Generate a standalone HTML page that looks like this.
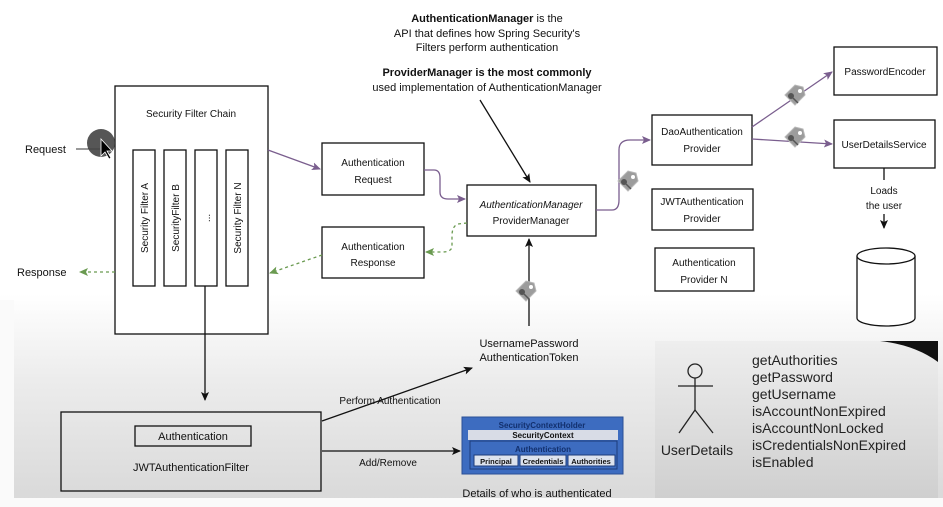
<!DOCTYPE html>
<html><head><meta charset="utf-8"><style>
html,body{margin:0;padding:0;width:943px;height:507px;overflow:hidden;background:#fff}
svg{display:block;font-family:"Liberation Sans",Arial,sans-serif}
</style></head><body>
<svg width="943" height="507" viewBox="0 0 943 507" xmlns="http://www.w3.org/2000/svg">
<defs>
<linearGradient id="bg" x1="0" y1="0" x2="0" y2="1">
<stop offset="0" stop-color="#ffffff"/><stop offset="0.58" stop-color="#ffffff"/><stop offset="0.75" stop-color="#ececec"/><stop offset="1" stop-color="#d8d8d8"/></linearGradient>
<linearGradient id="pn" x1="0" y1="0" x2="0" y2="1"><stop offset="0" stop-color="#eeeeee"/><stop offset="1" stop-color="#cfcfcf"/></linearGradient>
<marker id="ab" markerWidth="10" markerHeight="10" refX="8" refY="5" orient="auto" markerUnits="userSpaceOnUse"><path d="M0,1 L9,5 L0,9 L2,5z" fill="#111"/></marker>
<marker id="ap" markerWidth="10" markerHeight="10" refX="8" refY="5" orient="auto" markerUnits="userSpaceOnUse"><path d="M0,1 L9,5 L0,9 L2,5z" fill="#7a5e8e"/></marker>
<marker id="ag" markerWidth="10" markerHeight="10" refX="8" refY="5" orient="auto" markerUnits="userSpaceOnUse"><path d="M0,1 L9,5 L0,9 L2,5z" fill="#6a9a50"/></marker>
<g id="tag"><path d="M-7,-3 L3,-13 L11,-11 L13,-3 L3,7 Z" fill="#9c9c9c" stroke="#b8b8b8"/><circle cx="8" cy="-7" r="2" fill="#fff"/><circle cx="-1" cy="-2" r="3" fill="#555"/><path d="M1,0 L6,5" stroke="#555" stroke-width="1.5"/></g>
</defs>
<rect x="0" y="0" width="943" height="507" fill="url(#bg)"/>
<rect x="0" y="498" width="943" height="9" fill="#fafafa"/>
<rect x="0" y="300" width="14" height="198" fill="#fafafa"/>
<!-- panel -->
<rect x="655" y="341" width="283" height="157" fill="url(#pn)"/>
<path d="M880,341 L938,341 L938,362 Q915,345 880,341z" fill="#111"/>

<g fill="none" stroke="#111" stroke-width="1.3">
<rect x="115" y="86" width="153" height="248" fill="#fff"/>
<rect x="133" y="150" width="22" height="136" fill="#fff"/>
<rect x="164" y="150" width="22" height="136" fill="#fff"/>
<rect x="195" y="150" width="22" height="136" fill="#fff"/>
<rect x="226" y="150" width="22" height="136" fill="#fff"/>
<rect x="322" y="143" width="102" height="52" fill="#fff"/>
<rect x="322" y="227" width="102" height="51" fill="#fff"/>
<rect x="467" y="185" width="129" height="51" fill="#fff"/>
<rect x="652" y="115" width="100" height="50" fill="#fff"/>
<rect x="652" y="189" width="101" height="41" fill="#fff"/>
<rect x="655" y="248" width="99" height="43" fill="#fff"/>
<rect x="834" y="47" width="103" height="48" fill="#fff"/>
<rect x="834" y="120" width="101" height="48" fill="#fff"/>
<rect x="61" y="412" width="260" height="79"/>
<rect x="135" y="426" width="116" height="20"/>
<path d="M857,256 L857,318 A29,8 0 0 0 915,318 L915,256" fill="#fff"/>
<ellipse cx="886" cy="256" rx="29" ry="8" fill="#fff"/>
</g>
<!-- request -->
<line x1="76" y1="149" x2="100" y2="149" stroke="#333"/>
<circle cx="101" cy="143" r="14" fill="#444" opacity="0.9"/>
<path d="M101,139 L101,156 L105,152 L109,159 L111,158 L107,151 L112,151z" fill="#000" stroke="#fff" stroke-width="0.8"/>
<!-- connectors -->
<g fill="none" stroke-width="1.3">
<line x1="268" y1="150" x2="320" y2="169" stroke="#7a5e8e" marker-end="url(#ap)"/>
<path d="M424,170 L434,170 Q440,170 440,178 L440,192 Q440,199 448,199 L465,199" stroke="#7a5e8e" marker-end="url(#ap)"/>
<path d="M596,210 L612,210 Q619,210 619,200 L619,150 Q619,140 630,140 L650,140" stroke="#7a5e8e" marker-end="url(#ap)"/>
<line x1="752" y1="127" x2="832" y2="72" stroke="#7a5e8e" marker-end="url(#ap)"/>
<line x1="752" y1="139" x2="832" y2="144" stroke="#7a5e8e" marker-end="url(#ap)"/>
<path d="M467,223 L458,224 Q452,226 452,236 L452,246 Q452,252 442,252 L426,252" stroke="#6a9a50" stroke-dasharray="3,3" marker-end="url(#ag)"/>
<path d="M322,255 L270,273" stroke="#6a9a50" stroke-dasharray="3,3" marker-end="url(#ag)"/>
<line x1="115" y1="272" x2="80" y2="272" stroke="#6a9a50" stroke-dasharray="3,3" marker-end="url(#ag)"/>
<line x1="480" y1="100" x2="530" y2="182" stroke="#111" marker-end="url(#ab)"/>
<line x1="529" y1="326" x2="529" y2="239" stroke="#111" marker-end="url(#ab)"/>
<line x1="884" y1="168" x2="884" y2="180" stroke="#111"/>
<line x1="884" y1="214" x2="884" y2="228" stroke="#111" marker-end="url(#ab)"/>
<line x1="205" y1="286" x2="205" y2="400" stroke="#111" marker-end="url(#ab)"/>
<line x1="322" y1="421" x2="472" y2="368" stroke="#111" marker-end="url(#ab)"/>
<line x1="322" y1="451" x2="460" y2="451" stroke="#111" marker-end="url(#ab)"/>
</g>
<use href="#tag" x="625" y="184"/>
<use href="#tag" x="792" y="98"/>
<use href="#tag" x="792" y="140"/>
<use href="#tag" x="523" y="294"/>
<!-- texts -->
<g font-size="10" fill="#111" text-anchor="middle">
<text x="191" y="117">Security Filter Chain</text>
<text transform="translate(148,218) rotate(-90)">Security Filter A</text>
<text transform="translate(179,218) rotate(-90)">SecurityFilter B</text>
<text transform="translate(210,218) rotate(-90)">...</text>
<text transform="translate(241,218) rotate(-90)">Security Filter N</text>
<text x="373" y="166">Authentication</text><text x="373" y="183">Request</text>
<text x="373" y="250">Authentication</text><text x="373" y="266">Response</text>
<text x="531" y="208" font-style="italic">AuthenticationManager</text><text x="531" y="224">ProviderManager</text>
<text x="702" y="135">DaoAuthentication</text><text x="702" y="152">Provider</text>
<text x="702" y="205">JWTAuthentication</text><text x="702" y="222">Provider</text>
<text x="704" y="266">Authentication</text><text x="704" y="283">Provider N</text>
<text x="885" y="75">PasswordEncoder</text>
<text x="884" y="148">UserDetailsService</text>
<text x="884" y="194">Loads</text><text x="884" y="209">the user</text>
<text x="193" y="440" font-size="11">Authentication</text>
<text x="191" y="471" font-size="11">JWTAuthenticationFilter</text>
<text x="390" y="404">Perform Authentication</text>
<text x="388" y="466">Add/Remove</text>
<text x="537" y="497" font-size="11">Details of who is authenticated</text>
</g>
<g font-size="11" fill="#111" text-anchor="middle">
<text x="487" y="22"><tspan font-weight="bold">AuthenticationManager</tspan> is the</text>
<text x="487" y="37">API that defines how Spring Security's</text>
<text x="487" y="51">Filters perform authentication</text>
<text x="487" y="76" font-weight="bold">ProviderManager is the most commonly</text>
<text x="487" y="91">used implementation of AuthenticationManager</text>
<text x="529" y="347">UsernamePassword</text>
<text x="529" y="361">AuthenticationToken</text>
</g>
<text x="25" y="153" font-size="11" fill="#111">Request</text>
<text x="17" y="276" font-size="11" fill="#111">Response</text>
<!-- SecurityContextHolder -->
<rect x="462" y="417" width="161" height="57" fill="#3d6cc0" stroke="#2a4f96"/>
<text x="542" y="428" font-size="8" font-weight="bold" fill="#12306e" text-anchor="middle">SecurityContextHolder</text>
<rect x="468" y="430" width="150" height="10" fill="#d8dce6"/>
<text x="543" y="438" font-size="8" font-weight="bold" fill="#111" text-anchor="middle">SecurityContext</text>
<rect x="470" y="441" width="147" height="28" fill="#3d6cc0" stroke="#1d3b7a"/>
<text x="543" y="452" font-size="8" font-weight="bold" fill="#12306e" text-anchor="middle">Authentication</text>
<rect x="474" y="455" width="44" height="11" fill="#dde3ee" stroke="#1d3b7a"/>
<rect x="520" y="455" width="46" height="11" fill="#dde3ee" stroke="#1d3b7a"/>
<rect x="568" y="455" width="47" height="11" fill="#dde3ee" stroke="#1d3b7a"/>
<g font-size="7.5" font-weight="bold" fill="#111" text-anchor="middle">
<text x="496" y="464">Principal</text><text x="543" y="464">Credentials</text><text x="591" y="464">Authorities</text></g>
<!-- stick figure -->
<g stroke="#222" stroke-width="1.3" fill="none">
<circle cx="695" cy="371" r="7"/><line x1="695" y1="378" x2="695" y2="410"/>
<line x1="678" y1="386" x2="713" y2="386"/>
<line x1="695" y1="410" x2="679" y2="433"/><line x1="695" y1="410" x2="713" y2="433"/></g>
<text x="697" y="455" font-size="14" fill="#222" text-anchor="middle">UserDetails</text>
<g font-size="14" fill="#222">
<text x="752" y="365">getAuthorities</text><text x="752" y="382">getPassword</text><text x="752" y="399">getUsername</text>
<text x="752" y="416">isAccountNonExpired</text><text x="752" y="433">isAccountNonLocked</text>
<text x="752" y="450">isCredentialsNonExpired</text><text x="752" y="467">isEnabled</text></g>
</svg>
</body></html>
